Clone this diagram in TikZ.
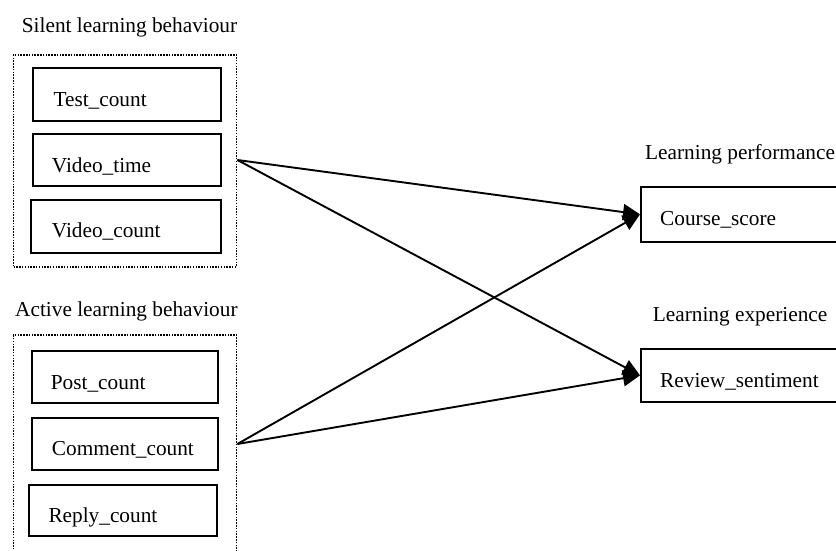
\documentclass[tikz,border=0pt]{standalone}
\usepackage{fontspec}
\setmainfont{Liberation Serif}
\usetikzlibrary{arrows.meta}
\begin{document}
\begin{tikzpicture}[x=1pt,y=-1pt,
  box/.style={draw, line width=2pt, inner sep=0pt, anchor=north west},
  grp/.style={draw, line width=1.7pt, dash pattern=on 1.5pt off 1.3pt, inner sep=0pt, anchor=north west},
  lbl/.style={anchor=base west, inner sep=0pt, font=\fontsize{21.3}{25}\selectfont},
  arr/.style={line width=1.9pt, -{Triangle[length=17pt,width=16pt]}}]
\useasboundingbox (0,0) rectangle (836,550);
\clip (0,0) rectangle (836,550);
% groups
\node[grp, minimum width=223pt, minimum height=212pt] (silent) at (12.7,54) {};
\node[grp, minimum width=223pt, minimum height=240pt] (active) at (12.7,334.3) {};
% boxes
\node[box, minimum width=187.7pt, minimum height=53.3pt] (test) at (32.3,66.7) {};
\node[box, minimum width=188.3pt, minimum height=52pt] (vtime) at (31.7,133) {};
\node[box, minimum width=190pt, minimum height=52.7pt] (vcount) at (30,199) {};
\node[box, minimum width=186.6pt, minimum height=51.7pt] (post) at (30.7,350) {};
\node[box, minimum width=186.6pt, minimum height=52.6pt] (comment) at (30.7,416.7) {};
\node[box, minimum width=188pt, minimum height=51pt] (reply) at (28,484) {};
\node[box, minimum width=220pt, minimum height=55.3pt] (course) at (640,185.7) {};
\node[box, minimum width=220pt, minimum height=53.3pt] (review) at (640,347.7) {};
% labels
\node[lbl] (tsilent) at (21.7,32) {Silent learning behaviour};
\node[lbl] (tactive) at (15,316) {Active learning behaviour};
\node[lbl] (tperf) at (645,159.3) {Learning performance};
\node[lbl] (texp) at (652.7,321.7) {Learning experience};
\node[lbl] (ttest) at (53.3,106) {Test\_count};
\node[lbl] (tvtime) at (51.7,172.7) {Video\_time};
\node[lbl] (tvcount) at (51.7,237.3) {Video\_count};
\node[lbl] (tpost) at (50.7,389.3) {Post\_count};
\node[lbl] (tcomment) at (51.7,455.7) {Comment\_count};
\node[lbl] (treply) at (48.3,522.3) {Reply\_count};
\node[lbl] (tcourse) at (660,225) {Course\_score};
\node[lbl] (treview) at (660,387.7) {Review\_sentiment};
% connectors
\coordinate (s1) at (silent.east |- vtime.center);
\coordinate (s2) at (active.east |- comment.center);
\draw[arr] (s1) -- (course.west);
\draw[arr] (s1) -- (review.west);
\draw[arr] (s2) -- (course.west);
\draw[arr] (s2) -- (review.west);
\end{tikzpicture}
\end{document}
